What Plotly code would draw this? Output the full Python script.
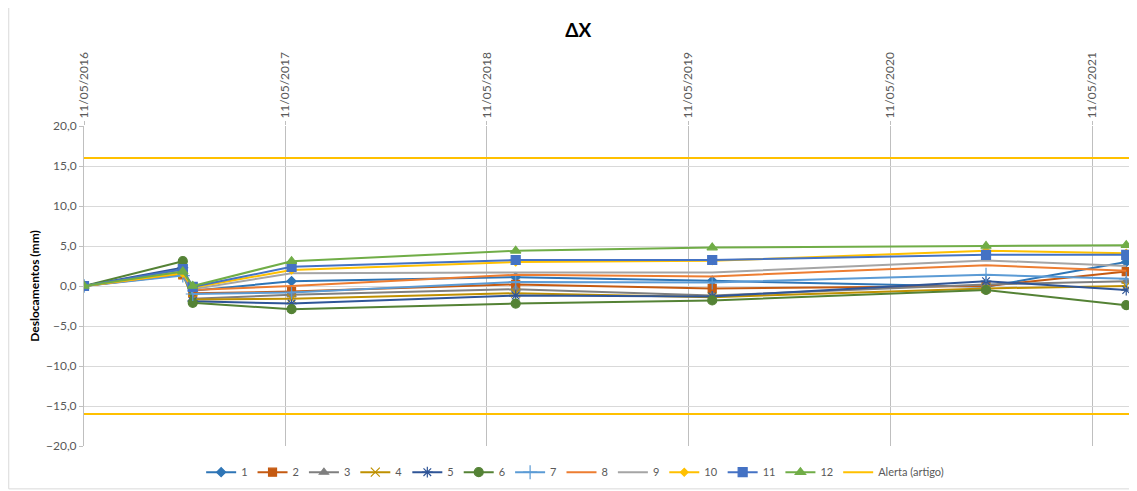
import plotly.graph_objects as go

dates = ['2016-05-11', '2016-11-06', '2016-11-24', '2017-05-22',
         '2018-07-02', '2019-06-23', '2020-10-31', '2021-07-12']

s1 = [0, 1.9, -0.6, 0.6, 1.1, 0.65, -0.1, 3.0]
s2 = [0, 1.4, -0.9, -0.7, 0.2, -0.3, 0.0, 1.8]
s3 = [0, 1.7, -1.6, -1.1, -0.4, -1.2, 0.2, 0.6]
s4 = [0, 1.5, -1.7, -1.6, -0.9, -1.4, -0.3, 0.0]
s5 = [0, 2.3, -1.9, -2.2, -1.2, -1.3, 0.6, -0.5]
s6 = [0, 3.1, -2.1, -2.9, -2.2, -1.8, -0.5, -2.4]
s7 = [0, 1.3, -1.0, -0.8, 0.5, 0.45, 1.4, 0.9]
s8 = [0, 1.6, -0.5, 0.0, 1.4, 1.2, 2.6, 1.9]
s9 = [0, 1.9, -0.4, 1.6, 1.7, 1.7, 3.2, 2.5]
s10 = [0, 1.6, -0.2, 2.0, 3.0, 3.15, 4.4, 4.1]
s11 = [0, 2.1, -0.1, 2.4, 3.25, 3.25, 3.9, 3.9]
s12 = [0, 1.8, 0.0, 3.1, 4.4, 4.8, 5.0, 5.1]

series_names = ['1', '2', '3', '4', '5', '6', '7', '8', '9', '10', '11', '12']
series_values = [s1, s2, s3, s4, s5, s6, s7, s8, s9, s10, s11, s12]

alert_limit = 16.0
alert_name = 'Alerta (artigo)'
x_start, x_end = '2016-05-11', '2021-07-17'

tick_dates = ['2016-05-11', '2017-05-11', '2018-05-11', '2019-05-11', '2020-05-11', '2021-05-11']
tick_labels = ['11/05/2016', '11/05/2017', '11/05/2018', '11/05/2019', '11/05/2020', '11/05/2021']

colors = ['#2E75B6', '#C55A11', '#7F7F7F', '#BF9000', '#2F5597', '#548235',
          '#5B9BD5', '#ED7D31', '#A5A5A5', '#FFC000', '#4472C4', '#70AD47']
symbols = ['diamond', 'square', 'triangle-up', 'x-thin-open', 'asterisk-open', 'circle',
           'cross-thin-open', None, None, 'diamond', 'square', 'triangle-up']
sizes = [7, 8, 8, 9, 9, 9, 10, 0, 0, 6, 9, 9]

fig = go.Figure()
for name, vals, col, sym, sz in zip(series_names, series_values, colors, symbols, sizes):
    if sym is None:
        fig.add_trace(go.Scatter(x=dates, y=vals, name=name, mode='lines',
                                 line=dict(color=col, width=2)))
    else:
        fig.add_trace(go.Scatter(x=dates, y=vals, name=name, mode='lines+markers',
                                 line=dict(color=col, width=2),
                                 marker=dict(symbol=sym, size=sz, color=col,
                                             line=dict(color=col, width=1.2))))

fig.add_trace(go.Scatter(x=[x_start, x_end, None, x_start, x_end],
                         y=[alert_limit, alert_limit, None, -alert_limit, -alert_limit],
                         name=alert_name, mode='lines',
                         line=dict(color='#FFC000', width=2)))

fig.update_layout(
    width=1129, height=483,
    margin=dict(l=76, r=8, t=118, b=45, autoexpand=False),
    paper_bgcolor='white', plot_bgcolor='white',
    font=dict(family='Lato, Liberation Sans, sans-serif', size=12, color='#595959'),
    separators=',.',
    title=dict(text='<b>ΔX</b>', x=0.505, xanchor='center', y=0.954, yanchor='middle',
               font=dict(size=19, color='#000000')),
    showlegend=True,
    legend=dict(orientation='h', x=0.47, xanchor='center', yref='container',
                y=0.039, yanchor='middle',
                bgcolor='rgba(0,0,0,0)',
                font=dict(size=11, color='#595959'), itemwidth=30, tracegroupgap=0),
    xaxis=dict(type='date', side='top', range=[x_start, x_end], automargin=False,
               tickmode='array', tickvals=tick_dates, ticktext=tick_labels,
               tickangle=-90, showgrid=True, gridcolor='#BFBFBF', gridwidth=1,
               ticks='outside', ticklen=4, tickcolor='#BFBFBF',
               showline=False, zeroline=False,
               tickfont=dict(size=12, color='#595959')),
    yaxis=dict(range=[-20, 20], dtick=5, tick0=0, tickformat='.1f', automargin=False,
               showgrid=True, gridcolor='#D9D9D9', gridwidth=1,
               zeroline=False, showline=True, linecolor='#BFBFBF',
               ticks='outside', ticklen=4, tickcolor='#BFBFBF',
               title=dict(text='<b>Deslocamentos (mm)</b>', font=dict(size=12, color='#000000'),
                          standoff=3),
               tickfont=dict(size=12, color='#595959')),
)

fig.add_shape(type='rect', xref='paper', yref='paper',
              x0=-0.072, x1=1.02, y0=-0.134, y1=1.45,
              line=dict(color='#D9D9D9', width=1), layer='below')

fig.write_html('out.html')
